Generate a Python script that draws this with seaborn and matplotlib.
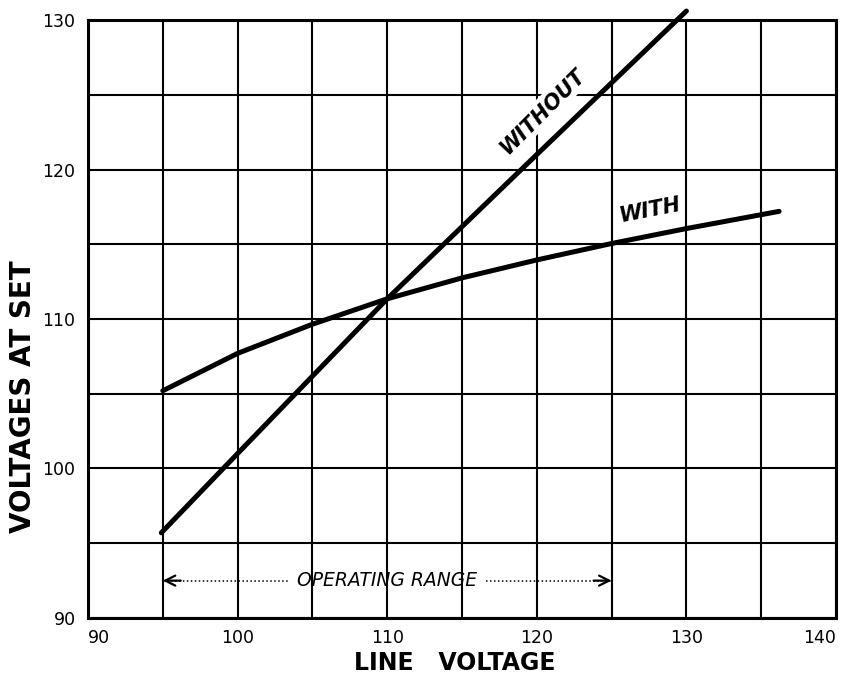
import matplotlib
matplotlib.use("Agg")
import matplotlib.pyplot as plt
import seaborn as sns
import pandas as pd

# Set-voltage curves read against line voltage
without_x = [94.9, 100.0, 110.0, 120.0, 130.0]
without_y = [95.7, 101.0, 111.35, 121.0, 130.6]

with_x = [95.0, 100.0, 105.0, 110.0, 115.0, 120.0, 125.0, 130.0, 136.2]
with_y = [105.2, 107.7, 109.65, 111.35, 112.75, 113.95, 115.05, 116.05, 117.2]

x_ticks = [90, 100, 110, 120, 130, 140]
y_ticks = [90, 100, 110, 120, 130]
range_start, range_end, range_level = 95, 125, 92.5

sns.set_style("white")
plt.rcParams["font.family"] = ["DejaVu Sans"]
plt.rcParams["text.color"] = "black"
plt.rcParams["axes.labelcolor"] = "black"
plt.rcParams["xtick.color"] = "black"
plt.rcParams["ytick.color"] = "black"

fig = plt.figure(figsize=(8.47, 6.78), dpi=100)
ax = fig.add_axes([0.1039, 0.0885, 0.8831, 0.882])

df_without = pd.DataFrame({"line": without_x, "set": without_y})
df_with = pd.DataFrame({"line": with_x, "set": with_y})

for df in (df_without, df_with):
    sns.lineplot(data=df, x="line", y="set", ax=ax, color="black", lw=3.6,
                 sort=False, estimator=None, zorder=4, clip_on=False,
                 solid_capstyle="round", solid_joinstyle="round")

ax.set_xlim(90, 140)
ax.set_ylim(90, 130)
ax.set_xticks(x_ticks)
ax.set_yticks(y_ticks)
ax.set_xticks(range(95, 140, 10), minor=True)
ax.set_yticks(range(95, 130, 10), minor=True)
ax.grid(True, which="both", color="black", lw=1.5, zorder=0)
ax.set_axisbelow(True)
ax.tick_params(which="both", length=0)
ax.tick_params(axis="x", labelsize=12.5, pad=8)
ax.tick_params(axis="y", labelsize=12.5, pad=9)
xlabels = ax.get_xticklabels()
xlabels[0].set_horizontalalignment("left")
xlabels[-1].set_horizontalalignment("right")
for s in ax.spines.values():
    s.set_linewidth(2.2)
    s.set_color("black")

ax.set_xlabel("LINE   VOLTAGE", fontsize=17, fontweight="bold")
ax.xaxis.set_label_coords(0.49, -0.055)
ax.set_ylabel("VOLTAGES AT SET", fontsize=20, fontweight="bold")
ax.yaxis.set_label_coords(-0.068, 0.37)

# Curve labels
ax.text(120.4, 123.9, "WITHOUT", rotation=45, fontsize=15, fontweight="bold",
        fontstyle="italic", ha="center", va="center", zorder=3,
        bbox=dict(facecolor="white", edgecolor="none", pad=2))
ax.text(127.6, 117.25, "WITH", rotation=11, fontsize=15, fontweight="bold",
        fontstyle="italic", ha="center", va="center", zorder=3)

# Operating range marker
ax.text(110, range_level, "OPERATING RANGE", fontsize=13.5, fontstyle="italic",
        ha="center", va="center", zorder=3)
ax.plot([range_start, 103.5], [range_level] * 2, color="black", lw=1.1,
        ls=(0, (1, 1.6)), zorder=3)
ax.plot([116.6, range_end], [range_level] * 2, color="black", lw=1.1,
        ls=(0, (1, 1.6)), zorder=3)
for tip, tail in ((range_start, range_start + 1.2), (range_end, range_end - 1.2)):
    ax.annotate("", xy=(tip, range_level), xytext=(tail, range_level),
                arrowprops=dict(arrowstyle="->", lw=1.6, color="black",
                                mutation_scale=18, shrinkA=0, shrinkB=0),
                zorder=3)

fig.savefig("out.png", dpi=100)
